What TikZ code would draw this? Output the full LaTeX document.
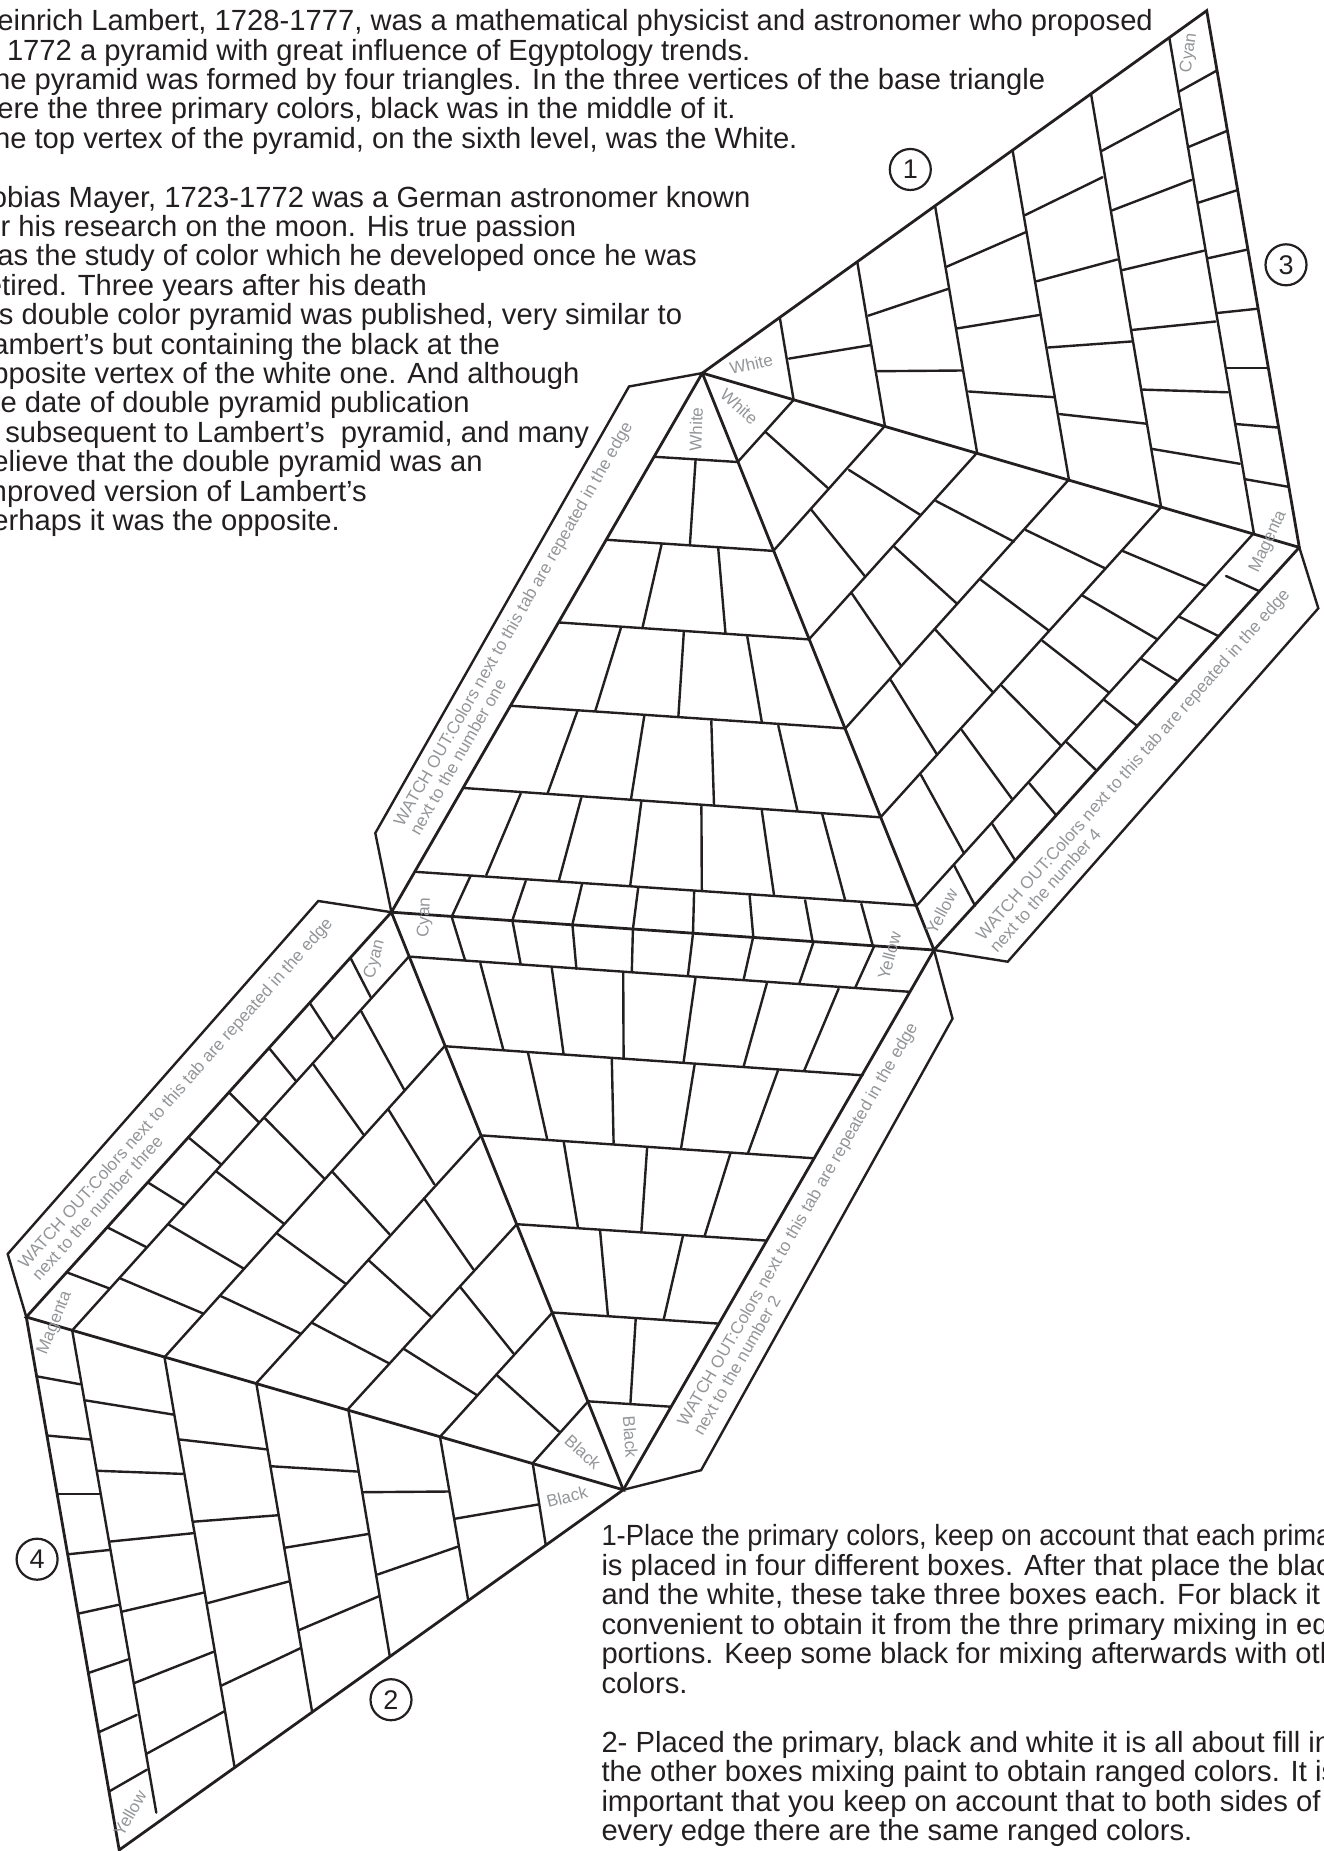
\documentclass[tikz,border=0pt]{standalone}
\usepackage{fontspec}
\setmainfont{Liberation Sans}
\newfontfamily\narrowsans[FakeStretch=0.937]{Liberation Sans}
\usepackage{xcolor}
\definecolor{inkdark}{RGB}{35,31,32}
\definecolor{inkgray}{RGB}{147,149,152}
\tikzset{
    edgeline/.style={draw=inkdark, line width=2.8pt, line join=miter},
    gridline/.style={draw=inkdark, line width=2.4pt, line cap=round},
    taboutline/.style={draw=inkdark, line width=2.4pt, line join=miter},
    celllabel/.style={text=inkgray, inner sep=0pt, font=\fontsize{17}{17}\selectfont},
    tablabel/.style={text=inkgray, inner sep=0pt, anchor=west, align=left, font=\fontsize{17.15}{18.5}\selectfont},
    bodytext/.style={text=inkdark, inner sep=0pt, anchor=north west, align=left},
    numbermark/.style={draw=inkdark, line width=2.2pt, circle, minimum size=41pt, inner sep=0pt, text=inkdark, font=\fontsize{27}{27}\selectfont}
}
\begin{document}
\begin{tikzpicture}[x=1pt, y=-1pt]
    \useasboundingbox (0,0) rectangle (1323,1851);

    \coordinate (whiteTop) at (702.3,373.1);
    \coordinate (cyanTop) at (1206.7,10.7);
    \coordinate (magentaRight) at (1299.3,547.4);
    \coordinate (yellowMid) at (934,950);
    \coordinate (cyanMid) at (391.4,912.2);
    \coordinate (magentaLeft) at (26.3,1317);
    \coordinate (blackLow) at (623.3,1489.8);
    \coordinate (yellowLow) at (119.2,1850);

    \draw[taboutline] (whiteTop) -- (629,386.5) -- (375.3,833.1) -- (cyanMid);
    \draw[taboutline] (blackLow) -- (701.1,1470.2) -- (952.5,1018.6) -- (yellowMid);
    \draw[taboutline] (cyanMid) -- (318.3,901) -- (7.7,1254) -- (magentaLeft);
    \draw[taboutline] (magentaRight) -- (1318.3,608.3) -- (1007.7,961.7) -- (yellowMid);

    \draw[edgeline] (whiteTop) -- (cyanTop) -- (magentaRight) -- cycle;
    \draw[edgeline] (whiteTop) -- (yellowMid) -- (magentaRight);
    \draw[edgeline] (whiteTop) -- (cyanMid) -- (yellowMid);
    \draw[edgeline] (cyanMid) -- (magentaLeft) -- (blackLow) -- cycle;
    \draw[edgeline] (yellowMid) -- (blackLow);
    \draw[edgeline] (magentaLeft) -- (yellowLow) -- (blackLow);

    % upper triangle
    \foreach \xa/\ya/\xb/\yb in {
        654.7/456.8/737.7/462, 606.8/539.8/773.3/550.9, 559.4/622.5/808.9/639.4,
        511.5/705.8/845.3/728.4, 464.1/788/880.5/817.3, 416.3/871.9/916.8/905.5,
        695.6/459.6/689.9/544.6,
        661.6/544.2/642.4/628, 718.2/548.1/725.5/633.5,
        621/627.6/595.4/710.6, 683.8/632.3/678.4/716.1, 747.3/636.7/761.8/722,
        577.4/711/547.5/793.6, 644.3/715.7/631/799.1, 711.3/720.9/714/805, 778.3/725.6/797.4/810.6,
        520.7/793.6/486.3/875, 581.2/798/559/880.2, 641.3/801.9/630.2/885.7,
        701.4/806.6/701.8/890.4, 761.8/810.6/774.1/895.6, 822.3/814.5/845.3/900.7,
        470.2/876.6/451.8/916.5, 525.7/881/512.3/920.5, 582/884.1/572.4/924.4, 638.2/887.7/632.9/929.2,
        694.1/891.6/693/933.1, 749.6/895.6/753.4/937.9, 805.1/900.3/812.7/941.8, 861.3/903.9/872.8/945.8
    } \draw[gridline] (\xa,\ya) -- (\xb,\yb);

    % lower triangle
    \foreach \xa/\ya/\xb/\yb in {
        408.9/956.6/909.6/991.8, 444.6/1046.2/862.5/1075.3, 481.4/1135.4/814.3/1158.3,
        516.8/1224.2/766.8/1240.6, 552.5/1312.5/718.9/1323.6, 588.2/1401.3/670.7/1406.7,
        451.8/917.2/465/960.1, 512.5/921/520.7/964.3, 572.5/925.6/576.4/968.9, 632.9/929.5/631.8/972,
        692.9/934.4/687.9/975.8, 752.9/938.3/743.6/979.6, 813.2/942.9/799.3/983.4, 873.9/946.7/855.4/987.3,
        480.4/963.5/503.2/1049.3, 551.8/968.1/563.6/1054.2, 623.2/972.7/623.6/1057.7,
        695.4/978.5/683.6/1061.9, 766.8/983.4/743.6/1066.5, 838.6/988.8/804.3/1070.3,
        527.9/1052.3/547.1/1138.8, 611.8/1058.4/613.6/1143, 694.6/1064.6/681.1/1148, 777.9/1070.7/748.2/1152.6,
        563.6/1141.1/577.9/1227.2, 647.1/1147.6/641.4/1231.4, 730.4/1153.3/704.6/1236,
        600/1229.9/607.9/1315.2, 682.9/1236/663.6/1319.8,
        635.7/1319/630.4/1403.6
    } \draw[gridline] (\xa,\ya) -- (\xb,\yb);

    % upper right face
    \foreach \xa/\ya/\xb/\yb in {
        793.6/399.9/779.8/317.6, 884.9/425.9/857.3/262.1, 977.1/452.7/935.2/206.7,
        1068.9/479.5/1012.6/150.4, 1161.1/507.1/1091/93.8, 1253.8/533.1/1169.4/38.3,
        789/358.6/870.2/345.2,
        877.5/371.2/962.8/370.5, 868.3/315.7/948.1/288.9,
        968.8/391.5/1054.1/397.2, 957.3/328.4/1039.4/315, 946.7/266.7/1025.5/232.3,
        1059.7/414.1/1146.3/423.7, 1048.1/347.5/1132.5/341.4, 1036.6/281.3/1117.3/259.5, 1025.1/215.1/1102.5/177.2,
        1151.9/448.9/1239.9/463.8, 1142.6/389.6/1227.9/392.3, 1132.5/329.9/1215.5/321.5,
        1121.9/270.2/1204/250.7, 1111.8/210.5/1191.5/179.9, 1101.2/151.2/1179.5/109.1,
        1244.5/479.1/1288.3/486.8, 1235.3/424/1277.7/427.5, 1226.1/368.2/1267.6/368.2, 1216.4/313.1/1257/308.8,
        1207.7/258.3/1247.8/249.5, 1198/202.8/1237.1/190.2, 1187.8/147.3/1227/130.9, 1178.6/91.8/1216.4/70.8
    } \draw[gridline] (\xa,\ya) -- (\xb,\yb);

    % lower right face
    \foreach \xa/\ya/\xb/\yb in {
        793.6/399.9/737.7/462, 884.9/425.9/773.3/550.9, 977.1/452.7/808.9/639.4,
        1068.9/479.5/845.3/728.4, 1161.1/507.1/880.5/817.3, 1253.8/533.1/916.8/905.5,
        766/432.4/828.5/488.6,
        849/470/920.5/515, 811.5/510/864.7/576,
        936/501/1014/541.7, 894.3/546.7/957.3/604, 851.7/593.3/901/665.7,
        1025.7/530/1105/568.3, 981/580/1049/630.7, 935.7/630/993.3/692.7, 890.7/680/937.3/755,
        1122.7/551/1205/585.7, 1082.7/595.7/1157.3/639.3, 1042.3/640.7/1109/692.7,
        1001.7/685.7/1061/745.7, 961.7/730/1012.3/799.3, 921/775/964/853.3,
        1226/576/1258.3/590.7, 1179.3/616.7/1218.3/636, 1141.7/659/1177.3/681, 1104.3/700/1137.3/726,
        1066.7/742.3/1096.7/770.7, 1029.3/783.3/1056/815, 992.3/824/1015/860, 954.3/865.7/975/905.7
    } \draw[gridline] (\xa,\ya) -- (\xb,\yb);

    % upper left face
    \foreach \xa/\ya/\xb/\yb in {
        408.9/956.6/72.2/1330.4, 444.6/1046.2/164.5/1357.2, 481.4/1135.4/256.3/1383.2,
        516.8/1224.2/348.2/1408.8, 552.5/1312.5/440/1436.8, 588.2/1401.3/532.7/1463.2,
        350.7/958.3/371/997.7, 310/1003.3/333.3/1039, 269.3/1048.3/296/1081, 229.3/1092.7/259/1122.3,
        188.3/1137.3/221/1164.3, 148.3/1182.7/184/1205, 107.3/1227.3/146.7/1247.3, 66.7/1272.3/109/1288.3,
        361/1011/404.3/1090, 313.3/1064.3/363.3/1134.3, 265/1118.3/324/1178.3,
        216.7/1171.7/283.3/1223.3, 168.3/1224.3/243.3/1268.3, 120/1278.3/202.7/1313.3,
        388.3/1109.3/434.3/1184.3, 332.3/1171.7/389.3/1234, 276.7/1233.3/345/1283.3, 220/1295.7/300/1333.3,
        424/1198.3/473.3/1269.3, 368.3/1260/431/1316.7, 311.7/1322.7/389/1363.3,
        460/1286.7/513.3/1353.3, 404/1349/476.7/1395,
        496.7/1375/559/1431.5
    } \draw[gridline] (\xa,\ya) -- (\xb,\yb);

    % lower left face
    \foreach \xa/\ya/\xb/\yb in {
        72.2/1330.4/156.3/1812.6, 164.5/1357.2/234.7/1767.8, 256.3/1383.2/312.2/1712.3,
        348.2/1408.8/389.8/1656.4, 440/1436.8/468.2/1600.2, 532.7/1463.2/545.7/1544.7,
        455.1/1518.7/538/1504.5,
        362.4/1492.2/449/1491.5, 377.6/1574.5/458/1546.6,
        270.6/1466.2/358.4/1471.6, 284.9/1547.7/368.2/1534, 299.2/1630/378.8/1596.3,
        178.8/1439.4/267.3/1449.4, 193.1/1521.7/278.4/1515.2, 207.3/1603.2/289/1581.4, 221.6/1685.5/300.8/1648,
        85.7/1400.4/173.5/1414.6, 98/1470.8/182.9/1473.9, 109.4/1541.6/193.1/1533.2,
        121.6/1611.7/204.1/1592.5, 133.9/1683.2/213.5/1651.8, 146.1/1754/224.5/1711.2,
        36.7/1376.3/80.4/1384.3, 47.8/1435.6/89.8/1439.4, 58/1494.2/100/1494.2, 68.6/1554.2/109/1550,
        78.4/1613.6/118.4/1604.8, 88.6/1672.9/127.8/1659.5, 98.8/1732.2/136.7/1715, 109/1791.5/146.9/1769.7
    } \draw[gridline] (\xa,\ya) -- (\xb,\yb);

    \node (labelCyanTop) [celllabel, rotate=82] at (1189.2,52.8) {Cyan};
    \node (labelWhiteUp) [celllabel, rotate=13] at (751.2,364) {White};
    \node (labelWhiteRight) [celllabel, rotate=-42] at (739.3,406.4) {White};
    \node (labelWhiteMid) [celllabel, rotate=88] at (696,429.2) {White};
    \node (labelMagentaRight) [celllabel, rotate=65] at (1268.3,541.7) {Magenta};
    \node (labelYellowRight) [celllabel, rotate=62] at (941.7,911.7) {Yellow};
    \node (labelYellowMid) [celllabel, rotate=75] at (889.3,955.5) {Yellow};
    \node (labelCyanMid) [celllabel, rotate=88] at (425,917.3) {Cyan};
    \node (labelCyanLeft) [celllabel, rotate=75] at (375,959.3) {Cyan};
    \node (labelMagentaLeft) [celllabel, rotate=68] at (55,1323) {Magenta};
    \node (labelBlackRight) [celllabel, rotate=-86] at (630.4,1437) {Black};
    \node (labelBlackMid) [celllabel, rotate=-42] at (582.9,1452.2) {Black};
    \node (labelBlackLow) [celllabel, rotate=14] at (567,1497) {Black};
    \node (labelYellowLow) [celllabel, rotate=60] at (129.8,1813.3) {Yellow};

    \node (tabOne) [tablabel, rotate=60.2] at (405.8,829) {WATCH OUT:Colors next to this tab are repeated in the edge\\next to the number one};
    \node (tabTwo) [tablabel, rotate=60] at (689.3,1429) {WATCH OUT:Colors next to this tab are repeated in the edge\\next to the number 2};
    \node (tabThree) [tablabel, rotate=48.3] at (28,1271.7) {WATCH OUT:Colors next to this tab are repeated in the edge\\next to the number three};
    \node (tabFour) [tablabel, rotate=48.4] at (985.8,943.3) {WATCH OUT:Colors next to this tab are repeated in the edge\\next to the number 4};

    \node (markOne) [numbermark] at (910.3,169.5) {1};
    \node (markTwo) [numbermark] at (391,1699.7) {2};
    \node (markThree) [numbermark] at (1286,264.8) {3};
    \node (markFour) [numbermark] at (37.1,1559.2) {4};

    \node (historyText) [bodytext, font=\fontsize{29.2}{29.4}\selectfont] at (-24,9.3) {Heinrich Lambert, 1728-1777, was a mathematical physicist and astronomer who proposed\\
    in 1772 a pyramid with great influence of Egyptology trends.\\
    The pyramid was formed by four triangles. In the three vertices of the base triangle\\
    were the three primary colors, black was in the middle of it.\\
    The top vertex of the pyramid, on the sixth level, was the White.\\
    \mbox{}\\
    Tobias Mayer, 1723-1772 was a German astronomer known\\
    for his research on the moon. His true passion\\
    was the study of color which he developed once he was\\
    retired. Three years after his death\\
    his double color pyramid was published, very similar to\\
    Lambert's but containing the black at the\\
    opposite vertex of the white one. And although\\
    the date of double pyramid publication\\
    is subsequent to Lambert's~ pyramid, and many\\
    believe that the double pyramid was an\\
    improved version of Lambert's\\
    perhaps it was the opposite.};

    \node (stepsText) [bodytext, font=\fontsize{29.2}{29.5}\selectfont] at (601.3,1524.5) {{\narrowsans 1-Place the primary colors, keep on account that each primary}\\
    is placed in four different boxes. After that place the black\\
    and the white, these take three boxes each. For black it is\\
    convenient to obtain it from the thre primary mixing in equal\\
    portions. Keep some black for mixing afterwards with other\\
    colors.\\
    \mbox{}\\
    2- Placed the primary, black and white it is all about fill in\\
    the other boxes mixing paint to obtain ranged colors. It is\\
    important that you keep on account that to both sides of\\
    every edge there are the same ranged colors.};
\end{tikzpicture}
\end{document}
